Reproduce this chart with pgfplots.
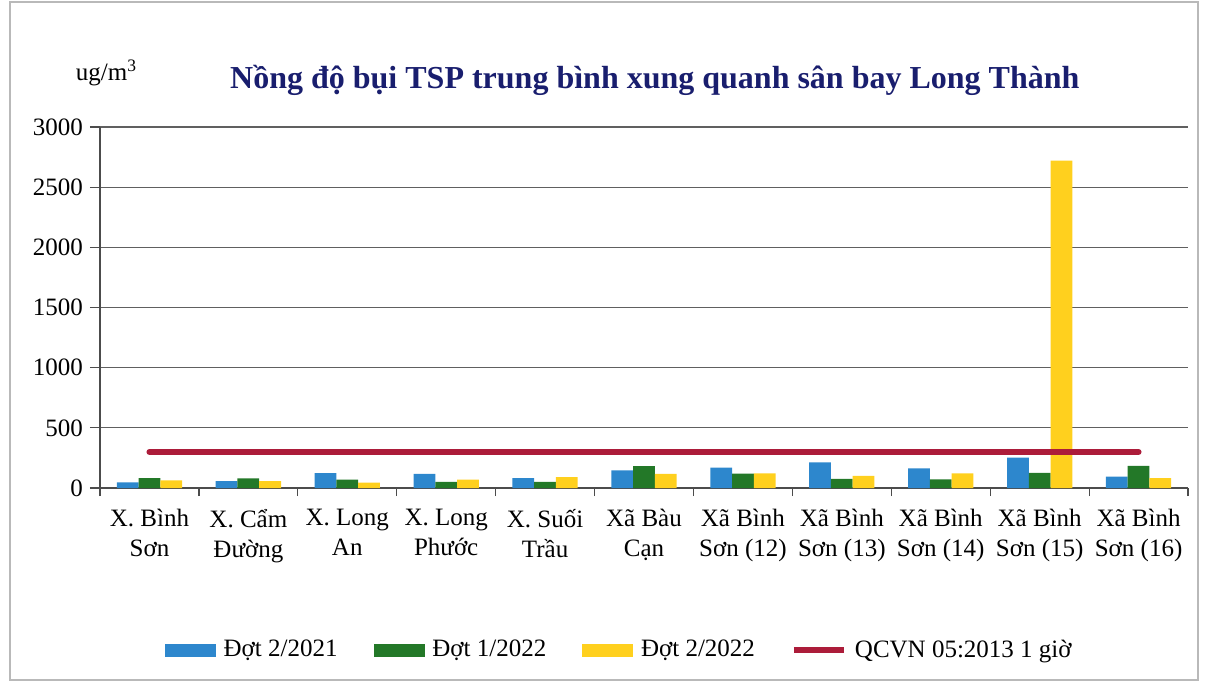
\documentclass[border=0pt]{standalone}
\usepackage{pgfplots}
\pgfplotsset{compat=1.18}
\usepackage{fontspec}
\setmainfont{Liberation Serif}

\definecolor{cBlue}{RGB}{45,135,205}
\definecolor{cGreen}{RGB}{35,120,40}
\definecolor{cYellow}{RGB}{255,208,30}
\definecolor{cRed}{RGB}{172,28,58}
\definecolor{cTitle}{RGB}{25,30,110}
\newcommand{\lblfont}{\fontsize{12.5}{15}\selectfont}

\begin{document}
\begin{tikzpicture}
\path[use as bounding box] (0,0) rectangle (604pt,-342.5pt);
\draw[gray!55, line width=0.8pt] (5pt,-1pt) rectangle (599pt,-340pt);
\begin{axis}[
    at={(50pt,-244pt)}, anchor=south west,
    scale only axis, width=544pt, height=180.5pt,
    xmin=-0.5, xmax=10.5, ymin=0, ymax=3000,
    ytick={0,500,...,3000},
    xtick={0,...,10},
    xticklabels={{X. Bình\\Sơn},{X. Cẩm\\Đường},{X. Long\\An},{X. Long\\Phước},{X. Suối\\Trầu},{Xã Bàu\\Cạn},{Xã Bình\\Sơn (12)},{Xã Bình\\Sơn (13)},{Xã Bình\\Sơn (14)},{Xã Bình\\Sơn (15)},{Xã Bình\\Sơn (16)}},
    minor xtick={-0.5,0.5,...,10.5},
    major x tick style={draw=none},
    tick align=outside,
    major tick length=5pt, minor tick length=4pt,
    tick style={gray!60!black, line width=0.6pt},
    axis x line*=bottom, axis y line*=left,
    axis line style={-, gray!60!black, line width=0.6pt},
    ymajorgrids, grid style={gray!75!black, line width=0.6pt},
    /pgf/number format/1000 sep={},
    /pgf/number format/assume math mode=true,
    yticklabel style={font=\lblfont},
    xticklabel style={font=\lblfont, align=center, yshift=-2pt},
    clip=false,
    legend columns=4,
    legend style={draw=none, fill=none, font=\lblfont, at={(0.48,-0.449)}, anchor=center,
        nodes={inner xsep=4pt},
        /tikz/every even column/.append style={column sep=14pt}},
    legend cell align=left,
]

\addplot[ybar, bar width=0.22, bar shift=-0.22, fill=cBlue, draw=none, forget plot] coordinates {
    (0,47) (1,58) (2,124) (3,118) (4,83) (5,147) (6,170) (7,214) (8,164) (9,253) (10,94)
};
\addplot[ybar, bar width=0.22, bar shift=0, fill=cGreen, draw=none, forget plot] coordinates {
    (0,82) (1,80) (2,69) (3,50) (4,50) (5,181) (6,120) (7,75) (8,72) (9,125) (10,183)
};
\addplot[ybar, bar width=0.22, bar shift=0.22, fill=cYellow, draw=none, forget plot] coordinates {
    (0,63) (1,58) (2,44) (3,69) (4,91) (5,117) (6,122) (7,100) (8,122) (9,2720) (10,83)
};
\addplot[cRed, line width=3pt, line cap=round, forget plot] coordinates {
    (0,300) (10,300)
};

\addlegendimage{legend image code/.code={\fill[cBlue] (0pt,-3pt) rectangle (25pt,3pt);}}
\addlegendentry{Đợt 2/2021}
\addlegendimage{legend image code/.code={\fill[cGreen] (0pt,-3pt) rectangle (25pt,3pt);}}
\addlegendentry{Đợt 1/2022}
\addlegendimage{legend image code/.code={\fill[cYellow] (0pt,-3pt) rectangle (25pt,3pt);}}
\addlegendentry{Đợt 2/2022}
\addlegendimage{legend image code/.code={\draw[cRed, line width=3pt] (0pt,0pt) -- (25pt,0pt);}}
\addlegendentry{QCVN 05:2013 1 giờ}

\node[font=\fontsize{16}{19}\selectfont\bfseries, text=cTitle] at (axis description cs:0.51,1.13)
    {Nồng độ bụi TSP trung bình xung quanh sân bay Long Thành};
\node[font=\lblfont] at (axis description cs:0.006,1.15) {ug/m\textsuperscript{3}};
\end{axis}
\end{tikzpicture}
\end{document}
